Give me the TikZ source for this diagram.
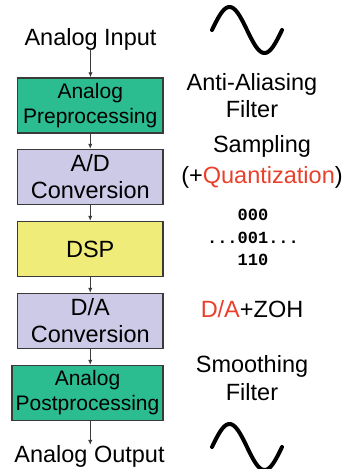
\documentclass[tikz,border=0pt]{standalone}
\usepackage{fontspec}
\setmainfont{Liberation Sans}
\setmonofont{Liberation Mono}
\usepackage{xcolor}
\usetikzlibrary{arrows.meta}

\definecolor{procgreen}{RGB}{43,189,143}
\definecolor{convblue}{RGB}{204,202,230}
\definecolor{dspyellow}{RGB}{240,236,122}
\definecolor{edgegray}{RGB}{58,58,58}
\definecolor{qred}{RGB}{232,64,42}

\newcommand{\lbl}{\fontsize{23.5}{27}\selectfont}
\newcommand{\smlbl}{\fontsize{21}{25}\selectfont}
\newcommand{\bits}{\fontsize{17}{20}\selectfont\ttfamily\bfseries}

\begin{document}
\begin{tikzpicture}[
  x=1pt, y=-1pt,
  font=\lbl,
  block/.style={
    draw=edgegray,
    line width=1.5pt,
    minimum width=145.5pt,
    minimum height=55pt,
    inner sep=2pt,
    align=center
  },
  flow/.style={
    -{Latex[length=5pt,width=4.5pt]},
    line width=0.9pt,
    edgegray
  },
  wave/.style={
    line width=4pt,
    line cap=round
  }
]
  \useasboundingbox (0,0) rectangle (349,469);

  % signal chain
  \node[inner sep=0pt, anchor=base] (in) at (90.5,45) {Analog Input};
  \node[block, fill=procgreen, font=\smlbl] (pre) at (90.25,105.5)
    {Analog\\Preprocessing};
  \node[block, fill=convblue] (adc) at (90.25,177) {A/D\\Conversion};
  \node[block, fill=dspyellow] (dsp) at (90.25,249) {DSP};
  \node[block, fill=convblue] (dac) at (90.25,321) {D/A\\Conversion};
  \node[block, fill=procgreen, font=\smlbl, minimum width=151pt] (post)
    at (87.5,393) {Analog\\Postprocessing};
  \node[inner sep=0pt, anchor=base] (out) at (89.5,462) {Analog Output};

  \draw[flow] (in.south) -- (in.south |- pre.north);
  \draw[flow] (pre) -- (adc);
  \draw[flow] (adc) -- (dsp);
  \draw[flow] (dsp) -- (dac);
  \draw[flow] (dac.south) -- (dac.south |- post.north);
  \draw[flow] (dac.south |- post.south) -- (dac.south |- out.north);

  % descriptions
  \node[anchor=base] (aa1) at (252,90) {Anti-Aliasing};
  \node[anchor=base] (aa2) at (252,117) {Filter};
  \node[anchor=base] (sm1) at (262,152) {Sampling};
  \node[anchor=base] (sm2) at (262,183) {(+{\color{qred}Quantization})};
  \node[anchor=base, font=\bits] (b1) at (253,220) {000};
  \node[anchor=base, font=\bits] (b2) at (253,243) {...001...};
  \node[anchor=base, font=\bits] (b3) at (253,265) {110};
  \node[anchor=base] (zoh) at (252,317) {{\color{qred}D/A}+ZOH};
  \node[anchor=base] (sf1) at (252,372) {Smoothing};
  \node[anchor=base] (sf2) at (252,400) {Filter};

  % sine waves
  \draw[wave] plot[domain=0:360, samples=60, variable=\t]
    ({212+\t/360*70}, {30-23*sin(\t)});
  \draw[wave] plot[domain=0:360, samples=60, variable=\t]
    ({212+\t/360*70}, {447-23*sin(\t)});
\end{tikzpicture}
\end{document}
